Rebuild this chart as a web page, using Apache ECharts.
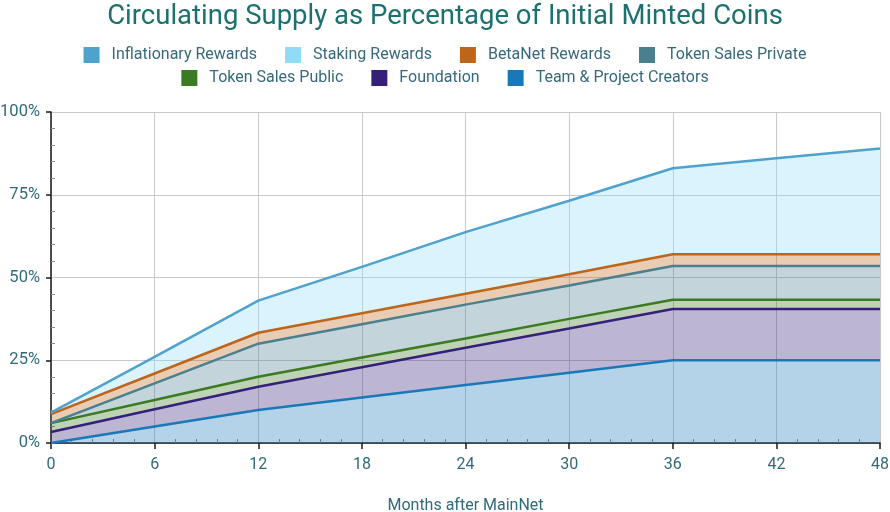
<!DOCTYPE html>
<html>
<head>
<meta charset="utf-8">
<script src="https://cdn.jsdelivr.net/npm/echarts@6/dist/echarts.min.js"></script>
<style>html,body{margin:0;padding:0;background:#fff}#c{width:890px;height:512px}</style>
</head>
<body>
<div id="c"></div>
<script>
// Months after MainNet
const months = [0, 6, 12, 18, 24, 30, 36, 42, 48];
// Stacked increments (percent of initial minted coins)
const team        = [0, 5, 10, 13.75, 17.5, 21.25, 25, 25, 25];
const foundation  = [3.3, 5.2, 7, 9.15, 11.3, 13.35, 15.5, 15.5, 15.5];
const salesPublic = [2.7, 2.8, 3, 2.9, 2.8, 2.9, 2.8, 2.8, 2.8];
const salesPrivate= [0, 5, 10, 10.1, 10.2, 10.1, 10.2, 10.2, 10.2];
const betanet     = [2.7, 3, 3.3, 3.3, 3.3, 3.4, 3.5, 3.5, 3.5];
const staking     = [0.5, 5, 9.7, 14, 18.6, 22.2, 26, 29, 32];
const inflationary= [0, 0, 0, 0, 0, 0, 0, 0, 0];
const yTicks = [0, 25, 50, 75, 100];

const FONT = 'Roboto';
const TEXT = '#2f6b79';

// [value, month] so that the stacked dimension is the value
function pairs(arr){ return months.map((m,i)=>[arr[i], m]); }

const defs = [
  {name:'Team & Project Creators', data:team, color:'#1a78b8', lw:2.5},
  {name:'Foundation', data:foundation, color:'#34207a', lw:2.5},
  {name:'Token Sales Public', data:salesPublic, color:'#3a7a22', lw:2.5},
  {name:'Token Sales Private', data:salesPrivate, color:'#4a7f8e', lw:2.5},
  {name:'BetaNet Rewards', data:betanet, color:'#bd651b', lw:2.5},
  {name:'Staking Rewards', data:staking, color:'#8fdbf8', lw:0},
  {name:'Inflationary Rewards', data:inflationary, color:'#4fa2cd', lw:2.5}
];

const series = defs.map(d => ({
  name: d.name, type:'line', stack:'total', data: pairs(d.data),
  dimensions:['val','month'], encode:{x:'month', y:'val'},
  symbol:'none', color:d.color,
  lineStyle:{width:d.lw, color:d.color},
  areaStyle:{color:d.color, opacity:0.33},
  emphasis:{disabled:true}, animation:false
}));

const legendBase = {
  left:'center', itemWidth:16, itemHeight:16, itemGap:28, icon:'rect',
  textStyle:{fontFamily:FONT, fontSize:16, color:'#36697a', padding:[0,0,0,7]},
  selectedMode:false
};

const chart = echarts.init(document.getElementById('c'), null, {renderer:'canvas'});
chart.setOption({
  backgroundColor:'#fff',
  animation:false,
  title:{text:'Circulating Supply as Percentage of Initial Minted Coins', left:'center', top:-2,
    textStyle:{fontFamily:FONT, fontSize:27.5, fontWeight:'normal', color:'#1b7070'}},
  legend:[
    Object.assign({}, legendBase, {top:42, data:['Inflationary Rewards','Staking Rewards','BetaNet Rewards','Token Sales Private']}),
    Object.assign({}, legendBase, {top:65, data:['Token Sales Public','Foundation','Team & Project Creators']})
  ],
  grid:{left:51, right:10, top:112, bottom:69, outerBoundsMode:'none', containLabel:false},
  xAxis:[{
    type:'value', min:0, max:48, interval:6,
    name:'Months after MainNet', nameLocation:'middle', nameGap:55,
    nameTextStyle:{fontFamily:FONT, fontSize:16, color:TEXT},
    axisLine:{show:true, onZero:false, lineStyle:{color:'#1a1a1a', width:1.5}},
    axisTick:{show:true, length:6, lineStyle:{color:'#1a1a1a', width:1.5}},
    axisLabel:{fontFamily:FONT, fontSize:16, color:TEXT, margin:14},
    splitLine:{show:true, lineStyle:{color:'#c9c9c9', width:1}}
  },{
    type:'value', min:0, max:48, interval:6, position:'bottom',
    axisLine:{show:false}, axisLabel:{show:false}, splitLine:{show:false},
    axisTick:{show:false, inside:true},
    minorTick:{show:true, splitNumber:5, length:4, lineStyle:{color:'#8a8a8a', width:1}}
  }],
  yAxis:[{
    type:'value', min:0, max:100, interval:25,
    axisLine:{show:true, onZero:false, lineStyle:{color:'#1a1a1a', width:1.5}},
    axisTick:{show:true, length:5, lineStyle:{color:'#1a1a1a', width:1.5}},
    axisLabel:{fontFamily:FONT, fontSize:16.5, color:TEXT, margin:11,
      formatter: v => yTicks.includes(v) ? v + '%' : ''},
    splitLine:{show:true, lineStyle:{color:'#c9c9c9', width:1}}
  },{
    type:'value', min:0, max:100, interval:25, position:'left',
    axisLine:{show:false}, axisLabel:{show:false}, splitLine:{show:false},
    axisTick:{show:false, inside:true},
    minorTick:{show:true, splitNumber:5, length:4, lineStyle:{color:'#8a8a8a', width:1}}
  }],
  series: series
});
</script>
</body>
</html>
